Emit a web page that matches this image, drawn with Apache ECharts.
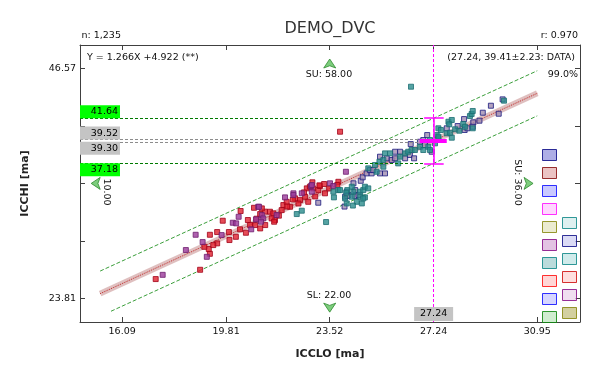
<!DOCTYPE html>
<html>
<head>
<meta charset="utf-8">
<script src="https://cdn.jsdelivr.net/npm/echarts@6/dist/echarts.min.js"></script>
<style>html,body{margin:0;padding:0;background:#fff}#c{width:599px;height:370px}</style>
</head>
<body>
<div id="c"></div>
<script>
// ---------- data ----------
const xTicks = [16.09, 19.81, 23.52, 27.24, 30.95];
const yTicks = [46.57, 40.88, 35.19, 29.50, 23.81];
const yTickLabels = [46.57, 23.81];

const redPts = [
[17.29,25.73],[18.88,26.65],[19.23,28.23],[19.19,28.70],[19.03,28.92],[19.23,30.11],[19.49,30.38],[19.49,29.26],
[19.69,31.50],[19.91,30.38],[19.93,29.59],[20.16,29.91],[20.33,32.46],[20.81,32.78],[20.31,30.65],[20.52,30.31],
[20.59,31.57],[20.85,31.07],[21.38,32.39],[21.50,32.23],[21.56,31.57],[21.80,32.55],[21.86,33.05],[21.98,33.37],
[22.10,32.88],[22.28,33.71],[22.46,33.54],[22.64,33.87],[22.75,33.37],[22.93,34.70],[22.70,34.70],[23.11,34.53],
[23.17,34.93],[23.32,35.13],[23.35,34.21],[23.83,35.35],[23.79,35.03],[21.44,31.73],[21.53,31.40],[21.03,30.74],
[21.21,31.07],[20.67,31.07],[23.89,40.30],[22.00,32.90],[22.40,33.20],[22.60,34.30],[23.00,33.90],[22.20,33.60],
[21.70,32.00],[22.90,35.30],[23.50,34.70],[21.20,32.40],[20.90,31.70],[19.35,29.09],[21.03,32.16],[21.09,32.72],
[22.81,34.86],[23.15,35.00]
];
const purplePts = [
[17.54,26.15],[18.37,28.60],[19.12,27.93],[18.97,29.39],[18.72,30.11],[19.65,30.08],[20.05,31.30],[20.26,31.89],
[20.96,32.88],[20.17,31.24],[20.71,30.65],[20.88,31.63],[21.09,32.06],[21.14,31.73],[21.06,31.40],[21.62,32.06],
[21.92,33.81],[22.22,34.21],[22.52,34.21],[22.88,34.37],[22.85,34.93],[23.53,35.20],[23.65,34.93],[24.10,36.34],
[22.22,34.04],[22.88,35.03],[20.99,32.88]
];
const tealPts = [
[23.65,34.37],[23.83,34.53],[23.67,33.81],[22.34,32.16],[22.52,32.49],[23.39,31.37],[24.13,33.21],[24.15,34.53],
[24.37,34.37],[24.07,33.71],[23.89,34.53],[24.61,34.37],[24.72,34.53],[24.78,34.86],[24.61,33.87],[24.78,33.81],
[24.90,34.70],[24.90,36.68],[25.14,37.01],[25.20,36.34],[25.30,37.33],[25.44,37.50],[25.44,36.84],[25.50,38.16],
[25.68,38.16],[25.97,37.17],[26.04,37.83],[26.22,38.16],[26.33,38.32],[26.45,38.49],[26.57,38.49],[26.75,38.81],
[26.87,38.49],[27.05,38.81],[27.11,38.49],[27.11,39.48],[27.35,39.97],[27.41,39.65],[24.11,34.27],[24.31,33.87],
[24.49,33.37],[24.67,33.21],[24.72,33.71],[24.31,34.86],[27.41,40.64],[27.50,40.47],[27.77,41.29],[27.89,41.46],
[27.80,41.03],[28.01,40.54],[28.16,40.40],[28.30,41.06],[28.36,40.79],[28.54,41.85],[28.60,42.05],[28.64,42.35],
[28.64,40.64],[29.76,43.37],[27.89,39.71],[27.29,39.15],[27.41,39.81],[27.71,40.14],[27.83,40.20],[26.43,44.75],
[24.35,33.00]
];
const navyPts = [
[24.13,34.37],[24.07,33.87],[24.19,34.04],[23.11,33.28],[24.37,35.20],[24.15,33.94],[24.43,33.94],[24.55,34.04],
[24.63,35.45],[24.70,35.79],[24.84,36.18],[25.02,36.18],[24.96,36.51],[25.08,36.51],[25.32,36.18],[25.50,36.18],
[25.32,37.83],[25.56,37.67],[25.74,37.50],[25.86,37.67],[25.86,38.32],[26.04,38.32],[26.22,37.67],[26.39,38.00],
[26.54,37.67],[26.42,39.08],[26.75,39.31],[26.87,39.48],[27.01,39.97],[26.93,38.98],[27.17,38.32],[24.43,34.53],
[27.71,40.64],[28.10,40.86],[28.33,41.55],[28.35,40.47],[28.45,40.64],[28.66,41.23],[28.64,40.79],[28.88,41.39],
[29.00,42.18],[29.29,42.87],[29.57,42.08],[29.71,43.50],[24.05,32.90]
];

// fitted line Y = 1.266X + 4.922 and 99% limits (end points)
const regLine   = [[15.30, 24.29], [30.95, 44.10]];
const upperBand = [[15.30, 26.52], [30.95, 46.33]];
const lowerBand = [[15.69, 22.55], [30.95, 41.87]];

// cursor readout at X = 27.24
const cursorX = 27.24;
const cursorY = 39.41;
const cursorHi = 41.64;
const cursorLo = 37.18;
const refHi = 39.52;
const refLo = 39.30;

// spec limit markers
const limitMarks = [[23.52, 47.49, 0], [23.52, 22.46, 180], [14.98, 35.19, 90], [30.80, 35.19, -90]];

// legend groups
const groupNames = ['G01','G02','G03','G04','G05','G06','G07','G08','G09','G10','G11','G12','G13','G14','G15','G16'];
const groupFill = ['#9a9ae0','#e6b4b4','#bcbcff','#ffccff','#e6e6c4','#dcb4dc','#aad2d2','#ffcccc','#ccccff','#c4e8c4',
                   '#d6ecec','#d2d2f2','#c4e6e6','#ffd6d6','#ecd6ec','#c8c488'];
const groupBorder = ['#000080','#800000','#0000ff','#ff00ff','#808000','#800080','#008080','#ff0000','#0000ff','#008000',
                     '#008080','#000080','#008080','#cc0000','#800080','#808000'];

// ---------- chart ----------
const FONT = 'DejaVu Sans';
const X_MIN = 14.58, X_MAX = 32.48, Y_MIN = 21.486, Y_MAX = 48.875;
const chart = echarts.init(document.getElementById('c'));

const axisLineStyle = {color: '#404040', width: 1};
const ptStyle = {
  G01: {color: '#a08cb0', borderColor: '#1a1a80'},
  G02: {color: '#e0202e', borderColor: '#a00018'},
  G06: {color: '#9a3a9a', borderColor: '#6e1e6e'},
  G07: {color: '#2a8c8c', borderColor: '#1d6e73'}
};
const ptData = {G01: navyPts, G02: redPts, G06: purplePts, G07: tealPts};

const series = [];
// regression band
series.push({type:'line', data: regLine, symbol:'none', silent:true, z:3,
  lineStyle:{width:6, color:'rgba(212,170,170,0.75)'}});
series.push({type:'line', data: regLine, symbol:'none', silent:true, z:3,
  lineStyle:{width:1, type:'dotted', color:'#c02828'}});
series.push({type:'line', data: upperBand, symbol:'none', silent:true, z:3,
  lineStyle:{width:1, type:[4,2], color:'#3a9e3a'}});
series.push({type:'line', data: lowerBand, symbol:'none', silent:true, z:3,
  lineStyle:{width:1, type:[4,2], color:'#3a9e3a'}});

groupNames.forEach((n, i) => {
  const st = ptStyle[n] || {color: groupFill[i], borderColor: groupBorder[i]};
  series.push({type:'scatter', name:n, data: ptData[n] || [], symbol:'rect', symbolSize:5, z:4,
    itemStyle:{color: st.color, borderColor: st.borderColor, borderWidth:1}});
});

// limit markers
series.push({type:'scatter', name:'limits', silent:true, z:6,
  data: limitMarks.map(d => ({value:[d[0], d[1]], symbolRotate: d[2]})),
  symbol:'arrow', symbolSize:[9,9],
  itemStyle:{color:'#5cc05c', borderColor:'#2e8b2e', borderWidth:1}});

const segStyle = (c, w, t) => ({color:c, width:w, type:t});
const boxLabel = (txt) => ({show:true, formatter: txt, position:'insideRight', distance:2,
  color:'#000', fontFamily: FONT, fontSize: 9.5});

series.push({type:'line', name:'annot', data: [], z:5,
  markLine: {silent:true, symbol:['none','none'], animation:false, label:{show:false},
    data: [
      [{coord:[X_MIN, cursorHi], lineStyle: segStyle('#007a00',1,[3,2])}, {coord:[26.93, cursorHi]}],
      [{coord:[X_MIN, refHi], lineStyle: segStyle('#8c8c8c',1,[3,2])}, {coord:[26.75, refHi]}],
      [{coord:[X_MIN, refLo], lineStyle: segStyle('#8c8c8c',1,[3,2])}, {coord:[26.75, refLo]}],
      [{coord:[X_MIN, cursorLo], lineStyle: segStyle('#007a00',1,[3,2])}, {coord:[26.93, cursorLo]}],
      [{coord:[cursorX, Y_MIN], lineStyle: segStyle('#ff00ff',1,[3,2])}, {coord:[cursorX, Y_MAX]}],
      [{coord:[cursorX, cursorHi], lineStyle: segStyle('#ff00ff',1.5,'solid')}, {coord:[cursorX, cursorLo]}],
      [{coord:[26.90, cursorHi], lineStyle: segStyle('#ff00ff',1.5,'solid')}, {coord:[27.60, cursorHi]}],
      [{coord:[26.90, cursorLo], lineStyle: segStyle('#ff00ff',1.5,'solid')}, {coord:[27.60, cursorLo]}],
      [{coord:[26.74, cursorY], lineStyle: segStyle('#ff00ff',4,'solid')}, {coord:[27.71, cursorY]}]
    ]},
  markPoint: {silent:true, animation:false,
    data: [
      {coord:[X_MIN, cursorHi], symbol:'rect', symbolSize:[40,13], symbolOffset:[20,-6.5], itemStyle:{color:'#00ff00'}, label: boxLabel(cursorHi.toFixed(2))},
      {coord:[X_MIN, refHi], symbol:'rect', symbolSize:[40,13], symbolOffset:[20,-6.5], itemStyle:{color:'#c4c4c4'}, label: boxLabel(refHi.toFixed(2))},
      {coord:[X_MIN, refLo], symbol:'rect', symbolSize:[40,13], symbolOffset:[20,6.5], itemStyle:{color:'#c4c4c4'}, label: boxLabel(refLo.toFixed(2))},
      {coord:[X_MIN, cursorLo], symbol:'rect', symbolSize:[40,13], symbolOffset:[20,6.5], itemStyle:{color:'#00ff00'}, label: boxLabel(cursorLo.toFixed(2))},
      {coord:[cursorX, Y_MIN], symbol:'rect', symbolSize:[39,14], symbolOffset:[0,-8], itemStyle:{color:'#c4c4c4'},
        label:{show:true, formatter: cursorX.toFixed(2), position:'inside', color:'#000', fontFamily: FONT, fontSize: 9.5}}
    ]}
});

const txt = (text, x, y, align, size, extra) => Object.assign({type:'text', x, y, silent:true, z:100,
  style:{text, font: (size||9.5) + 'px "' + FONT + '"', fill:'#111', align: align||'left', verticalAlign:'middle'}}, extra||{});

const legendCommon = {orient:'vertical', icon:'rect', itemWidth:14, itemHeight:11, itemGap:6, padding:0,
  formatter: () => '', selectedMode:false, textStyle:{fontSize:6}, itemStyle:{borderWidth:1}};
const legendData = groupNames.map((n, i) => ({name:n, itemStyle:{color: groupFill[i], borderColor: groupBorder[i], borderWidth:1}}));

chart.setOption({
  animation:false,
  textStyle:{fontFamily: FONT},
  grid:{left:80, right:19, top:45, bottom:48, containLabel:false},
  legend:[
    Object.assign({left:542, top:149, data: legendData.slice(0,10)}, legendCommon),
    Object.assign({left:562, top:217, data: legendData.slice(10)}, legendCommon)
  ],
  xAxis:[
    {type:'value', min:X_MIN, max:X_MAX, position:'bottom',
     axisLine:{show:true, onZero:false, lineStyle:axisLineStyle},
     axisTick:{show:true, inside:true, length:5, customValues:xTicks, lineStyle:axisLineStyle},
     axisLabel:{customValues:xTicks, formatter:v => v.toFixed(2), color:'#111', fontSize:9.5, margin:5},
     splitLine:{show:false},
     name:'ICCLO [ma]', nameLocation:'middle', nameGap:27,
     nameTextStyle:{fontWeight:'bold', fontSize:11, color:'#222', fontFamily: FONT}},
    {type:'value', min:X_MIN, max:X_MAX, position:'top',
     axisLine:{show:true, onZero:false, lineStyle:axisLineStyle},
     axisTick:{show:true, inside:true, length:5, customValues:xTicks, lineStyle:axisLineStyle},
     axisLabel:{show:false}, splitLine:{show:false}}
  ],
  yAxis:[
    {type:'value', min:Y_MIN, max:Y_MAX, position:'left',
     axisLine:{show:true, onZero:false, lineStyle:axisLineStyle},
     axisTick:{show:true, inside:true, length:5, customValues:yTicks, lineStyle:axisLineStyle},
     axisLabel:{customValues:yTickLabels, formatter:v => v.toFixed(2), color:'#111', fontSize:9.5, margin:4},
     splitLine:{show:false},
     name:'ICCHI [ma]', nameLocation:'middle', nameGap:49,
     nameTextStyle:{fontWeight:'bold', fontSize:11, color:'#222', fontFamily: FONT}},
    {type:'value', min:Y_MIN, max:Y_MAX, position:'right',
     axisLine:{show:true, onZero:false, lineStyle:axisLineStyle},
     axisTick:{show:true, inside:true, length:5, customValues:yTicks, lineStyle:axisLineStyle},
     axisLabel:{show:false}, splitLine:{show:false}}
  ],
  graphic:[
    txt('DEMO_DVC', 330, 28.5, 'center', 16, {style:{text:'DEMO_DVC', font:'16px "DejaVu Sans"', fill:'#333', align:'center', verticalAlign:'middle'}}),
    txt('n: 1,235', 81.5, 36, 'left'),
    txt('r: 0.970', 578, 36, 'right'),
    txt('Y = 1.266X +4.922 (**)', 87, 58, 'left'),
    txt('(27.24, 39.41\u00b12.23: DATA)', 575, 57.5, 'right'),
    txt('99.0%', 578, 74.5, 'right'),
    txt('SU: 58.00', 329, 74.5, 'center'),
    txt('SL: 22.00', 329, 296, 'center'),
    txt('10.00', 106.5, 192, 'center', 9.5, {rotation: -Math.PI/2}),
    txt('SU: 36.00', 517, 182.5, 'center', 9.5, {rotation: -Math.PI/2})
  ],
  series
});
</script>
</body>
</html>
